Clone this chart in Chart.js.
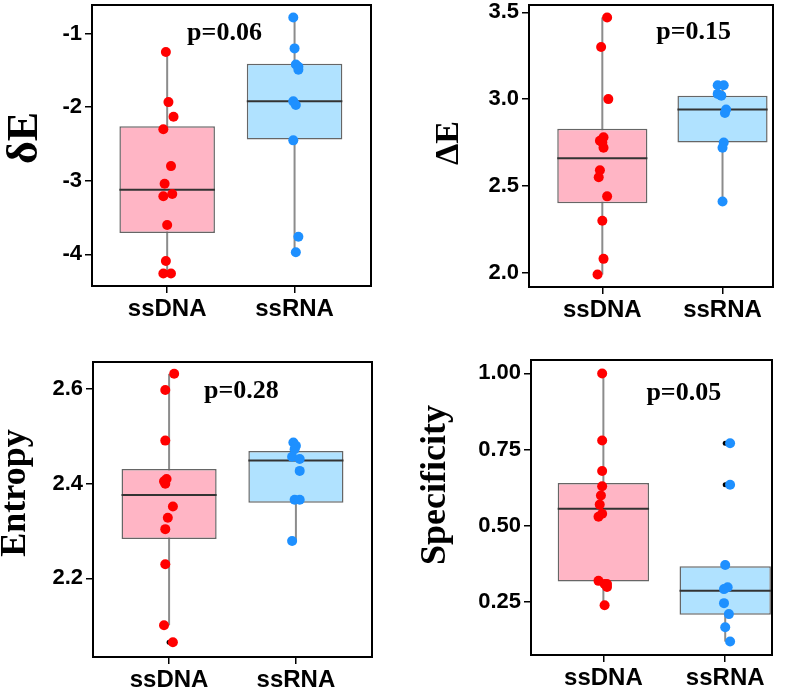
<!DOCTYPE html>
<html>
<head>
<meta charset="utf-8">
<script src="https://cdn.jsdelivr.net/npm/chart.js@4.4.1/dist/chart.umd.min.js"></script>
<style>
body { margin: 0; background: #fff; }
#wrap { position: relative; width: 800px; height: 688px; overflow: hidden; }
canvas { position: absolute; }
</style>
</head>
<body>
<div id="wrap">
<canvas id="c1" width="400" height="330" style="left:0;top:0"></canvas>
<canvas id="c2" width="400" height="330" style="left:400px;top:0"></canvas>
<canvas id="c3" width="400" height="358" style="left:0;top:330px"></canvas>
<canvas id="c4" width="400" height="358" style="left:400px;top:330px"></canvas>
</div>
<script>
const groups = ['ssDNA', 'ssRNA'];

// δE
const dE_dna = [-1.25, -1.93, -2.13, -2.30, -2.80, -3.04, -3.18, -3.21, -3.60, -4.09, -4.26, -4.26];
const dE_rna = [-0.78, -1.20, -1.42, -1.45, -1.49, -1.92, -1.97, -2.45, -3.76, -3.97];
const dE_q1 = [-3.71, -2.44];
const dE_med = [-3.12, -1.92];
const dE_q3 = [-2.26, -1.41];
const dE_lo = [-4.26, -3.97];
const dE_hi = [-1.25, -0.78];
const dE_ticks = ['-1', '-2', '-3', '-4'];

// ΔE
const DE_dna = [3.47, 3.30, 3.00, 2.78, 2.76, 2.75, 2.72, 2.59, 2.55, 2.44, 2.30, 2.08, 1.99];
const DE_rna = [3.08, 3.08, 3.03, 3.02, 2.94, 2.92, 2.75, 2.72, 2.41];
const DE_q1 = [2.40, 2.75];
const DE_med = [2.66, 2.94];
const DE_q3 = [2.83, 3.02];
const DE_lo = [1.99, 2.41];
const DE_hi = [3.47, 3.08];
const DE_ticks = ['2.0', '2.5', '3.0', '3.5'];

// Entropy
const ent_dna = [2.632, 2.598, 2.491, 2.410, 2.405, 2.400, 2.352, 2.328, 2.304, 2.230, 2.101, 2.065];
const ent_rna = [2.487, 2.480, 2.473, 2.457, 2.452, 2.427, 2.366, 2.366, 2.279];
const ent_q1 = [2.283, 2.360];
const ent_med = [2.376, 2.449];
const ent_q3 = [2.431, 2.469];
const ent_lo = [2.101, 2.279];
const ent_hi = [2.632, 2.487];
const ent_out = [[1, 2.065]];
const ent_ticks = ['2.2', '2.4', '2.6'];

// Specificity
const spec_dna = [1.00, 0.78, 0.68, 0.63, 0.60, 0.57, 0.54, 0.53, 0.32, 0.31, 0.31, 0.30, 0.24];
const spec_rna = [0.771, 0.635, 0.372, 0.299, 0.293, 0.247, 0.211, 0.168, 0.121];
const spec_q1 = [0.318, 0.209];
const spec_med = [0.556, 0.288];
const spec_q3 = [0.641, 0.368];
const spec_lo = [0.24, 0.121];
const spec_hi = [1.00, 0.372];
const spec_out = [[2, 0.771], [2, 0.635]];
const spec_ticks = ['0.25', '0.50', '0.75', '1.00'];

// horizontal jitter of the dots
const dE_jit = [[-0.01, 0.01, 0.05, -0.03, 0.03, -0.02, 0.04, -0.03, 0, -0.01, -0.03, 0.03],
                [-0.01, 0, 0.01, 0.03, 0.03, -0.01, 0.01, -0.01, 0.03, 0.01]];
const DE_jit = [[0.04, -0.01, 0.05, 0.01, -0.02, 0, 0.01, -0.02, -0.03, 0.04, 0, 0.01, -0.04],
                [-0.04, 0.01, -0.04, -0.01, 0.03, 0.02, 0.01, 0, 0]];
const ent_jit = [[0.04, -0.03, -0.03, -0.02, -0.04, -0.03, 0.03, -0.01, -0.03, -0.03, -0.04, 0.03],
                 [-0.02, 0, -0.01, -0.03, 0.03, 0.03, -0.01, 0.03, -0.03]];
const spec_jit = [[-0.01, -0.01, -0.01, -0.01, -0.02, -0.03, -0.01, -0.04, -0.04, 0.03, 0.01, 0.03, 0.01],
                  [0.04, 0.04, 0, 0.02, -0.01, -0.01, 0.03, 0, 0.04]];

const boxFill = ['#FFB5C5', '#B0E2FF'];
const dotColor = ['#FF0000', '#1E90FF'];

Chart.defaults.font.family = '"Liberation Sans", Arial, sans-serif';
Chart.defaults.color = '#000';

const medianLine = {
    id: 'medianLine',
    afterDatasetDraw(chart, args, opts) {
        if (args.meta.type !== 'bar') return;
        const ctx = chart.ctx;
        const y = chart.scales.y;
        ctx.save();
        ctx.strokeStyle = '#333';
        ctx.lineWidth = 2;
        args.meta.data.forEach((bar, i) => {
            const py = y.getPixelForValue(opts.values[i]);
            ctx.beginPath();
            ctx.moveTo(bar.x - bar.width / 2, py);
            ctx.lineTo(bar.x + bar.width / 2, py);
            ctx.stroke();
        });
        ctx.restore();
    }
};

const decor = {
    id: 'decor',
    afterDraw(chart, args, o) {
        const {ctx, chartArea: a, scales} = chart;
        ctx.save();
        ctx.strokeStyle = '#000';
        ctx.lineWidth = 2;
        ctx.strokeRect(a.left, a.top, a.right - a.left, a.bottom - a.top);
        ctx.fillStyle = '#000';
        ctx.font = 'bold 26px "Liberation Serif"';
        ctx.textAlign = 'center';
        ctx.textBaseline = 'middle';
        ctx.fillText(o.p, scales.x.getPixelForValue(o.px), scales.y.getPixelForValue(o.py));
        ctx.translate(o.tx, o.ty);
        ctx.rotate(-Math.PI / 2);
        ctx.font = 'bold ' + o.ts + 'px "Liberation Serif"';
        ctx.textBaseline = 'alphabetic';
        ctx.fillText(o.title, 0, 0);
        ctx.restore();
    }
};

function build(id, d) {
    const datasets = [];
    [d.dna, d.rna].forEach((vals, g) => {
        datasets.push({
            type: 'line',
            data: [{x: g + 1, y: d.lo[g]}, {x: g + 1, y: d.hi[g]}],
            borderColor: '#8c8c8c',
            borderWidth: 2,
            pointRadius: 0,
            order: 3,
        });
        datasets.push({
            type: 'scatter',
            data: vals.map((v, i) => ({x: g + 1 + d.jit[g][i], y: v})),
            backgroundColor: dotColor[g],
            borderWidth: 0,
            pointRadius: 5,
            order: 0,
        });
    });
    datasets.push({
        type: 'bar',
        data: groups.map((c, g) => ({x: g + 1, y: [d.q1[g], d.q3[g]]})),
        backgroundColor: boxFill,
        borderColor: '#666',
        borderWidth: 1.5,
        borderSkipped: false,
        barPercentage: 0.75,
        categoryPercentage: 1,
        order: 2,
    });
    if (d.out) {
        datasets.push({
            type: 'scatter',
            data: d.out.map(o => ({x: o[0], y: o[1]})),
            backgroundColor: '#000',
            pointRadius: 2.5,
            borderWidth: 0,
            order: 1,
        });
    }
    const tickVals = d.ticks.map(Number);
    return new Chart(document.getElementById(id), {
        type: 'scatter',
        data: {datasets: datasets},
        plugins: [medianLine, decor],
        options: {
            responsive: false,
            animation: false,
            events: [],
            layout: {padding: {top: d.pad[0], right: d.pad[1], left: 0, bottom: 0}},
            scales: {
                x: {
                    type: 'linear',
                    min: d.xr[0],
                    max: d.xr[1],
                    offset: false,
                    afterBuildTicks: s => { s.ticks = groups.map((c, i) => ({value: i + 1})); },
                    afterFit: s => { s.height = d.xh; s.paddingLeft = 0; s.paddingRight = 0; },
                    ticks: {
                        autoSkip: false,
                        maxRotation: 0,
                        padding: 2,
                        font: {size: 24, weight: 'bold'},
                        callback: (v, i) => groups[i],
                    },
                    grid: {offset: false, drawOnChartArea: false, tickLength: 7, color: '#000', lineWidth: 1.5},
                    border: {display: false},
                },
                y: {
                    type: 'linear',
                    min: d.yr[0],
                    max: d.yr[1],
                    beginAtZero: false,
                    afterBuildTicks: s => { s.ticks = tickVals.map(v => ({value: v})); },
                    afterFit: s => { s.width = d.yw; s.paddingTop = 0; s.paddingBottom = 0; },
                    ticks: {
                        autoSkip: false,
                        padding: 3,
                        font: {size: 22, weight: 'bold'},
                        callback: (v, i) => d.ticks[i],
                    },
                    grid: {drawOnChartArea: false, tickLength: 7, color: '#000', lineWidth: 1.5},
                    border: {display: false},
                },
            },
            plugins: {
                legend: {display: false},
                tooltip: {enabled: false},
                medianLine: {values: d.med},
                decor: d.decor,
            },
        },
    });
}

build('c1', {
    dna: dE_dna, rna: dE_rna, jit: dE_jit, q1: dE_q1, med: dE_med, q3: dE_q3, lo: dE_lo, hi: dE_hi,
    ticks: dE_ticks, xr: [0.41, 2.6], yr: [-4.43, -0.61], pad: [2, 29], yw: 92, xh: 44,
    decor: {p: 'p=0.06', px: 1.45, py: -1.0, title: 'δE', tx: 37, ty: 138, ts: 44},
});
build('c2', {
    dna: DE_dna, rna: DE_rna, jit: DE_jit, q1: DE_q1, med: DE_med, q3: DE_q3, lo: DE_lo, hi: DE_hi,
    ticks: DE_ticks, xr: [0.39, 2.42], yr: [1.918, 3.542], pad: [3, 27], yw: 129, xh: 43,
    decor: {p: 'p=0.15', px: 1.76, py: 3.385, title: 'ΔE', tx: 58, ty: 143, ts: 34},
});
build('c3', {
    dna: ent_dna, rna: ent_rna, jit: ent_jit, q1: ent_q1, med: ent_med, q3: ent_q3, lo: ent_lo, hi: ent_hi,
    out: ent_out, ticks: ent_ticks, xr: [0.40, 2.60], yr: [2.034, 2.657], pad: [32, 28], yw: 93, xh: 31,
    decor: {p: 'p=0.28', px: 1.57, py: 2.595, title: 'Entropy', tx: 25, ty: 163, ts: 36},
});
build('c4', {
    dna: spec_dna, rna: spec_rna, jit: spec_jit, q1: spec_q1, med: spec_med, q3: spec_q3, lo: spec_lo, hi: spec_hi,
    out: spec_out, ticks: spec_ticks, xr: [0.406, 2.384], yr: [0.077, 1.044], pad: [30, 28], yw: 131, xh: 33,
    decor: {p: 'p=0.05', px: 1.66, py: 0.934, title: 'Specificity', tx: 45, ty: 155, ts: 36},
});
</script>
</body>
</html>
